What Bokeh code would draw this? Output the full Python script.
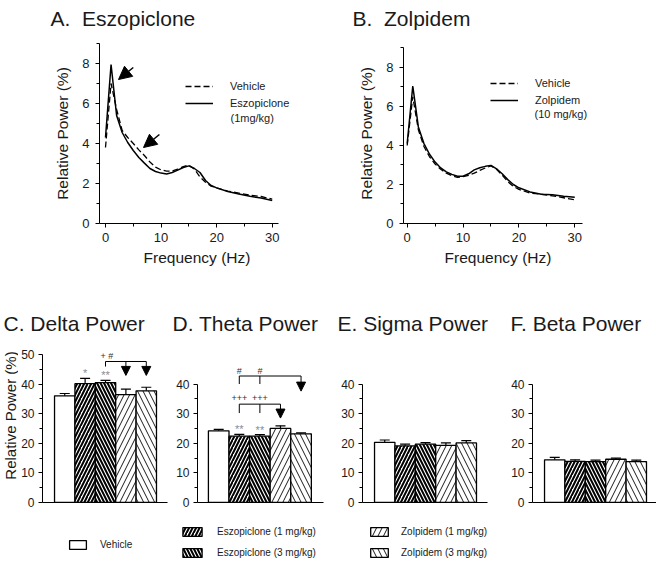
import numpy as np
from bokeh.plotting import figure
from bokeh.layouts import row, column
from bokeh.models import (Range1d, FixedTicker, Label, Legend, LegendItem, Whisker,
                          TeeHead, Arrow, NormalHead, ColumnDataSource)
from bokeh.core.properties import value
from bokeh.embed import file_html
from bokeh.resources import INLINE

FONT = "Liberation Sans"
INK = "#1a1a1a"

# ---------------- data: EEG power spectra (relative power, %) ----------------
freq_hz = [0, 1, 2, 3, 4, 5, 6, 7, 8, 9, 10, 11, 12, 13, 14, 15, 16, 17, 18, 19, 20,
           22, 24, 26, 28, 30]
a_vehicle = [3.8, 7.0, 5.7, 4.65, 4.3, 4.0, 3.68, 3.4, 3.07, 2.82, 2.68, 2.62, 2.62, 2.72,
             2.84, 2.92, 2.72, 2.33, 2.06, 1.87, 1.78, 1.62, 1.52, 1.42, 1.35, 1.22]
a_eszopiclone = [4.3, 7.95, 5.4, 4.55, 4.05, 3.65, 3.3, 3.02, 2.75, 2.6, 2.52, 2.48, 2.55,
                 2.67, 2.8, 2.88, 2.75, 2.55, 2.15, 1.9, 1.78, 1.6, 1.47, 1.36, 1.27, 1.15]
b_vehicle = [4.0, 6.5, 4.8, 3.95, 3.42, 3.05, 2.78, 2.58, 2.45, 2.37, 2.4, 2.47, 2.58, 2.72,
             2.85, 2.95, 2.78, 2.48, 2.15, 1.9, 1.75, 1.56, 1.5, 1.42, 1.32, 1.22]
b_zolpidem = [4.1, 7.05, 4.95, 4.1, 3.55, 3.15, 2.85, 2.65, 2.52, 2.42, 2.42, 2.55, 2.75,
              2.86, 2.93, 2.98, 2.8, 2.55, 2.25, 2.0, 1.83, 1.62, 1.5, 1.48, 1.4, 1.35]

# ---------------- data: band power (relative power, %) ----------------
groups = ["Vehicle", "Eszopiclone (1 mg/kg)", "Eszopiclone (3 mg/kg)",
          "Zolpidem (1 mg/kg)", "Zolpidem (3 mg/kg)"]
delta_mean = [36.0, 40.1, 40.5, 36.4, 37.7]
delta_sem = [0.8, 1.8, 0.7, 1.9, 1.2]
theta_mean = [24.2, 22.4, 22.4, 25.0, 23.2]
theta_sem = [0.5, 0.6, 0.5, 0.9, 0.3]
sigma_mean = [20.3, 19.1, 19.7, 19.3, 20.1]
sigma_sem = [0.8, 0.6, 0.5, 0.8, 0.8]
beta_mean = [14.4, 13.9, 13.8, 14.6, 13.8]
beta_sem = [0.8, 0.5, 0.5, 0.4, 0.5]
delta_stars = ["", "*", "**", "", ""]
theta_stars = ["", "**", "**", "", ""]

BAR_STYLES = [
    dict(hatch_pattern=None),
    dict(hatch_pattern="/", hatch_weight=2.0, hatch_scale=7, hatch_color="black"),
    dict(hatch_pattern="\\", hatch_weight=2.0, hatch_scale=7, hatch_color="black"),
    dict(hatch_pattern="/", hatch_weight=0.9, hatch_scale=11, hatch_color="black"),
    dict(hatch_pattern="\\", hatch_weight=0.9, hatch_scale=11, hatch_color="black"),
]


def base_fig(left, fw, right, top, fh, bottom, xr, yr):
    p = figure(frame_width=fw, frame_height=fh,
               min_border_left=left, min_border_right=right,
               min_border_top=top, min_border_bottom=bottom,
               x_range=Range1d(*xr), y_range=Range1d(*yr),
               output_backend="svg", toolbar_location=None, tools="")
    p.outline_line_color = None
    p.grid.visible = False
    p.background_fill_color = "white"
    p.border_fill_color = "white"
    return p


def strip_fig(w, h, top=0, bottom=0):
    """A bare strip (1 unit = 1 px, y measured downward from the strip frame top)."""
    p = figure(frame_width=w, frame_height=h, min_border_left=0, min_border_right=0,
               min_border_top=top, min_border_bottom=bottom, x_range=Range1d(0, w),
               y_range=Range1d(h, 0), x_axis_type=None, y_axis_type=None,
               output_backend="svg", toolbar_location=None, tools="")
    p.outline_line_color = None
    p.grid.visible = False
    p.background_fill_color = "white"
    p.border_fill_color = "white"
    return p


def style_axis(ax, tick_size, label_size, tick_standoff, label_standoff):
    ax.axis_line_color = "black"
    ax.axis_line_width = 1
    ax.major_tick_in = 0
    ax.major_tick_out = 4
    ax.minor_tick_in = 0
    ax.minor_tick_out = 3
    ax.major_tick_line_color = "black"
    ax.minor_tick_line_color = "black"
    ax.major_label_text_font = FONT
    ax.major_label_text_font_size = tick_size
    ax.major_label_text_color = INK
    ax.major_label_standoff = tick_standoff
    ax.axis_label_text_font = FONT
    ax.axis_label_text_font_size = label_size
    ax.axis_label_text_font_style = "normal"
    ax.axis_label_text_color = INK
    ax.axis_label_standoff = label_standoff


def strip_title(p, text, x, y):
    p.add_layout(Label(x=x, y=y, text=text, text_font=FONT, text_font_size="21px",
                       text_color=INK, text_baseline="alphabetic", text_align="left"))


def spectrum_panel(left, fw, right, xr, x_bounds, ymax, y_bounds, vehicle, drug,
                   drug_name, drug_dose, leg_loc, dose_xy):
    p = base_fig(left, fw, right, 13, 180, 67, xr, (0, ymax))
    r_veh = p.line(freq_hz, vehicle, line_color="black", line_width=1.3, line_dash="6 3")
    r_drug = p.line(freq_hz, drug, line_color="black", line_width=1.5)
    p.xaxis.ticker = FixedTicker(ticks=[0, 10, 20, 30], minor_ticks=[5, 15, 25])
    p.yaxis.ticker = FixedTicker(ticks=[0, 2, 4, 6, 8], minor_ticks=[1, 3, 5, 7, 9])
    p.xaxis.bounds = x_bounds
    p.yaxis.bounds = y_bounds
    p.xaxis.axis_label = "Frequency (Hz)"
    p.yaxis.axis_label = "Relative Power (%)"
    style_axis(p.xaxis[0], "13px", "15.5px", 5, 4)
    style_axis(p.yaxis[0], "13px", "15.5px", 6, 8)
    leg = Legend(items=[LegendItem(label="Vehicle", renderers=[r_veh]),
                        LegendItem(label=drug_name, renderers=[r_drug])],
                 location=leg_loc, orientation="vertical", glyph_width=28,
                 glyph_height=14, label_height=14, spacing=3, label_standoff=17,
                 padding=0, margin=0, border_line_color=None, background_fill_alpha=0,
                 label_text_font=FONT, label_text_font_size="11px", label_text_color=INK)
    p.add_layout(leg)
    p.add_layout(Label(x=dose_xy[0], y=dose_xy[1], x_units="screen", y_units="screen",
                       text=drug_dose, text_font=FONT, text_font_size="11px",
                       text_color=INK, text_baseline="middle"))
    return p


# ---------------- titles of the top row ----------------
tTop = strip_fig(656, 30)
strip_title(tTop, "A.\u00a0 Eszopiclone", 50, 18)
strip_title(tTop, "B.\u00a0 Zolpidem", 352, 18)

# ---------------- A / B ----------------
pA = spectrum_panel(99, 195, 46, (-1.08, 34.01), (-1.08, 31.14), 9.0, (0, 9.0),
                    a_vehicle, a_eszopiclone, "Eszopiclone", "(1mg/kg)", (86, 113),
                    (131, 106))
pA.add_layout(Arrow(x_start=5.0, y_start=7.8, x_end=2.34, y_end=7.2, line_width=1.5,
                    end=NormalHead(size=13, fill_color="black", line_color="black")))
pA.add_layout(Arrow(x_start=9.7, y_start=4.45, x_end=6.84, y_end=3.8, line_width=1.5,
                    end=NormalHead(size=13, fill_color="black", line_color="black")))

pB = spectrum_panel(63, 189, 64, (-0.66, 33.17), (-0.66, 31.38), 9.23, (0, 9.03),
                    b_vehicle, b_zolpidem, "Zolpidem", "(10 mg/kg)", (87, 116), (131, 110))

# ---------------- titles of the bottom row ----------------
tBot = strip_fig(656, 45)
strip_title(tBot, "C. Delta Power", 3, 33)
strip_title(tBot, "D. Theta Power", 172, 33)
strip_title(tBot, "E. Sigma Power", 337, 33)
strip_title(tBot, "F. Beta Power", 510, 33)


# ---------------- bar panels ----------------
def bar_panel(left, fw, right, xr, ymax, means, sems):
    p = base_fig(left, fw, right, 10, 157, 14, xr, (0, 53.0))
    idx = list(range(len(groups)))
    for i, st in enumerate(BAR_STYLES):
        p.vbar(x=[idx[i]], top=[means[i]], bottom=0, width=1, fill_color="white",
               line_color="black", line_width=1.3, **st)
    src = ColumnDataSource(dict(x=idx, lo=means, hi=[m + s for m, s in zip(means, sems)]))
    p.add_layout(Whisker(base="x", lower="lo", upper="hi", source=src, dimension="height",
                         line_color="black", line_width=1.2, level="annotation",
                         upper_head=TeeHead(size=10, line_color="black", line_width=1.2),
                         lower_head=None))
    p.xaxis.ticker = FixedTicker(ticks=[])
    p.yaxis.ticker = FixedTicker(ticks=list(range(0, ymax + 1, 10)),
                                 minor_ticks=list(range(5, ymax, 10)))
    p.yaxis.bounds = (0, ymax)
    style_axis(p.xaxis[0], "12px", "15px", 4, 3)
    p.xaxis.major_tick_out = 0
    style_axis(p.yaxis[0], "12px", "15px", 4, 0)
    return p, src


def stars(p, src, marks):
    s = ColumnDataSource(dict(x=src.data["x"], y=src.data["hi"], t=marks))
    p.text(x="x", y="y", text="t", source=s, text_font=value(FONT), text_font_size="11px",
           text_color="#8c8c8c", text_align="center", text_baseline="middle", y_offset=-5)


def bracket(p, starts, targets, level, foot, tip, marks, mark_y, mark_dx=0.0):
    xs = starts + targets
    p.segment(x0=[min(xs)], y0=[level], x1=[max(xs)], y1=[level], line_color="black",
              line_width=1)
    p.segment(x0=starts, y0=[foot] * len(starts), x1=starts, y1=[level] * len(starts),
              line_color="black", line_width=1)
    asrc = ColumnDataSource(dict(x=targets, y0=[level] * len(targets), y1=[tip] * len(targets)))
    p.add_layout(Arrow(x_start="x", y_start="y0", x_end="x", y_end="y1", source=asrc,
                       line_width=1, end=NormalHead(size=9, fill_color="black",
                                                    line_color="black")))
    p.text(x=[s + mark_dx for s in starts], y=[mark_y] * len(starts), text=marks,
           text_font=value(FONT), text_font_size="9px", text_color="#333333",
           text_align="center", text_baseline="middle")


# y-axis title of panel C, in its own narrow strip left of the panel
sCl = strip_fig(18, 157, top=10, bottom=14)
sCl.add_layout(Label(x=10, y=70, text="Relative Power (%)", angle=90, angle_units="deg",
                     text_font=FONT, text_font_size="15px", text_color=INK,
                     text_align="center", text_baseline="middle"))

pC, sC = bar_panel(24, 125, 3, (-1.09, 5.04), 50, delta_mean, delta_sem)
stars(pC, sC, delta_stars)
bracket(pC, [2], [3, 4], 47.6, 45.9, 42.9, ["+ #"], 49.6, 0.07)

pD, sD = bar_panel(27, 126, 15, (-1.03, 5.09), 40, theta_mean, theta_sem)
stars(pD, sD, theta_stars)
bracket(pD, [1, 2], [3], 33.2, 30.2, 28.5, ["+++", "+++"], 35.4)
bracket(pD, [1, 2], [4], 42.7, 40.0, 37.6, ["#", "#"], 44.5)

pE, sE = bar_panel(22, 125, 15, (-1.09, 5.04), 40, sigma_mean, sigma_sem)
pF, sF = bar_panel(30, 125, 1, (-1.09, 5.04), 40, beta_mean, beta_sem)

# ---------------- shared legend ----------------
# legend-only renderers (hidden; they only lend their styles to the legend swatches)
pL = strip_fig(656, 48)
leg_r = [pL.vbar(x=[-1000], top=[0], bottom=0, width=0.5, fill_color="white",
                 line_color="black", line_width=1.3, visible=False, **st)
         for st in BAR_STYLES]


def shared_legend(indices, loc, gw, standoff):
    return Legend(items=[LegendItem(label=groups[i], renderers=[leg_r[i]]) for i in indices],
                  location=loc, orientation="vertical", glyph_width=gw, glyph_height=11,
                  label_height=11, spacing=10, label_standoff=standoff, padding=0,
                  margin=0, border_line_color=None, background_fill_alpha=0,
                  label_text_font=FONT, label_text_font_size="10px", label_text_color=INK)


pL.add_layout(shared_legend([0], (67, 14), 21, 12))
pL.add_layout(shared_legend([1, 2], (180, 6), 24, 13))
pL.add_layout(shared_legend([3, 4], (368, 6), 22, 11))

layout = column(tTop, row(pA, pB), tBot, row(sCl, pC, pD, pE, pF), pL)
open("out.html", "w").write(file_html(layout, INLINE))
